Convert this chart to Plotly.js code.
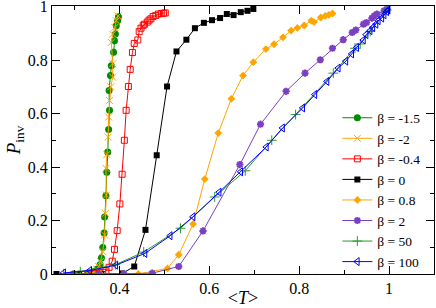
<!DOCTYPE html>
<html>
<head>
<meta charset="utf-8">
<script src="https://cdn.plot.ly/plotly-3.0.1.min.js"></script>
<style>html,body{margin:0;padding:0;background:#fff;}#chart{width:436px;height:308px;}</style>
</head>
<body>
<div id="chart"></div>
<script>
// beta = -1.5
const xBm15 = [0.31,0.33,0.34,0.35,0.357,0.360,0.363,0.366,0.367,0.370,0.372,0.374,0.376,0.378,0.377,0.380,0.382,0.387,0.389,0.391,0.393,0.396,0.398];
const yBm15 = [0.0,0.003,0.008,0.018,0.035,0.060,0.099,0.153,0.213,0.293,0.380,0.456,0.540,0.612,0.686,0.742,0.779,0.829,0.872,0.897,0.928,0.947,0.962];
// beta = -2
const xBm2 = [0.31,0.33,0.34,0.345,0.350,0.354,0.358,0.363,0.367,0.369,0.371,0.370,0.372,0.375,0.376,0.378,0.381,0.385,0.385,0.382,0.385,0.390,0.393,0.397];
const yBm2 = [0.0,0.002,0.005,0.010,0.016,0.028,0.047,0.084,0.146,0.227,0.295,0.395,0.447,0.512,0.587,0.649,0.700,0.736,0.786,0.866,0.897,0.922,0.947,0.965];
// beta = -0.4
const xBm04 = [0.33,0.345,0.355,0.363,0.370,0.377,0.384,0.389,0.395,0.401,0.406,0.411,0.415,0.420,0.424,0.429,0.433,0.441,0.444,0.448,0.453,0.456,0.462,0.466,0.470,0.475,0.481,0.487,0.493,0.498,0.502];
const yBm04 = [0.0,0.001,0.003,0.006,0.012,0.025,0.048,0.092,0.162,0.262,0.373,0.500,0.612,0.701,0.765,0.828,0.862,0.875,0.906,0.919,0.930,0.934,0.942,0.949,0.954,0.963,0.967,0.972,0.974,0.975,0.976];
// beta = 0
const xB0 = [0.26,0.31,0.36,0.406,0.433,0.458,0.483,0.506,0.527,0.549,0.568,0.588,0.606,0.624,0.639,0.654,0.670,0.685,0.698];
const yB0 = [0.0,0.0,0.0,0.002,0.028,0.165,0.444,0.701,0.832,0.876,0.919,0.939,0.949,0.957,0.972,0.968,0.979,0.984,0.991];
// beta = 0.8
const xB08 = [0.30,0.358,0.442,0.507,0.532,0.564,0.590,0.620,0.649,0.675,0.698,0.726,0.744,0.764,0.782,0.796,0.811,0.827,0.833,0.848,0.858,0.866,0.874];
const yB08 = [0.0,0.0,0.0,0.021,0.072,0.187,0.355,0.527,0.655,0.742,0.792,0.841,0.859,0.885,0.910,0.920,0.929,0.947,0.942,0.959,0.965,0.969,0.974];
// beta = 2
const xB2 = [0.297,0.355,0.410,0.473,0.532,0.586,0.668,0.714,0.771,0.813,0.847,0.874,0.898,0.918,0.926,0.943,0.950,0.962,0.967,0.973,0.989,0.995];
const yB2 = [0.0,0.0,0.001,0.003,0.028,0.161,0.409,0.560,0.683,0.751,0.801,0.844,0.876,0.903,0.912,0.934,0.940,0.957,0.965,0.972,0.984,0.990];
// beta = 50
const xB50 = [0.276,0.313,0.391,0.454,0.536,0.612,0.680,0.739,0.792,0.876,0.924,0.936,0.958,0.995];
const yB50 = [0.001,0.009,0.035,0.082,0.171,0.288,0.386,0.500,0.596,0.751,0.844,0.860,0.907,0.987];
// beta = 100
const xB100 = [0.276,0.334,0.392,0.457,0.513,0.564,0.622,0.670,0.727,0.763,0.808,0.835,0.862,0.887,0.904,0.917,0.928,0.943,0.949,0.958,0.964,0.971,0.976,0.984,0.989,0.995,0.998];
const yB100 = [0.004,0.013,0.033,0.077,0.143,0.214,0.306,0.382,0.475,0.546,0.621,0.671,0.720,0.770,0.796,0.823,0.847,0.875,0.895,0.910,0.922,0.934,0.947,0.957,0.969,0.981,0.987];

const names = ['β = -1.5','β = -2','β = -0.4','β = 0','β = 0.8','β = 2','β = 50','β = 100'];

const GREEN = '#008b00', ORANGE = '#ffa500', RED = '#ff0000', BLACK = '#000000', INDIGO = '#7b3fc4', BLUE = '#0000ff', GREEN2 = '#2e9b2e';

function tr(x, y, name, color, symbol, size, lw) {
  return {x: x, y: y, name: name, type: 'scatter', mode: 'lines+markers',
    line: {color: color, width: 1},
    marker: {color: color, symbol: symbol, size: size, line: {color: color, width: lw}}};
}

const data = [
  tr(xBm15, yBm15, names[0], GREEN, 'circle', 7, 0),
  tr(xBm2, yBm2, names[1], ORANGE, 'x-thin-open', 7, 1),
  tr(xBm04, yBm04, names[2], RED, 'square-open', 6, 1),
  tr(xB0, yB0, names[3], BLACK, 'square', 6, 0),
  tr(xB08, yB08, names[4], ORANGE, 'diamond', 6, 0),
  tr(xB2, yB2, names[5], INDIGO, 'asterisk-open', 6, 2),
  tr(xB50, yB50, names[6], GREEN2, 'cross-thin-open', 7, 1),
  tr(xB100, yB100, names[7], BLUE, 'triangle-left-open', 7, 1)
];

const FONT = 'Liberation Serif, Tinos, Times New Roman, Times, DejaVu Serif, serif';
const layout = {
  width: 436, height: 308,
  margin: {l: 52, r: 2, t: 6, b: 34},
  paper_bgcolor: '#fff', plot_bgcolor: '#fff',
  font: {family: FONT, color: '#000'},
  showlegend: true,
  legend: {x: 0.747, y: 0.64, xanchor: 'left', yanchor: 'top', bgcolor: 'rgba(0,0,0,0)',
    font: {family: FONT, size: 13.5, color: '#000'}, tracegroupgap: 0, itemwidth: 30},
  xaxis: {range: [0.25, 1.1], tick0: 0, dtick: 0.2, ticks: 'inside', ticklen: 8, tickwidth: 1,
    tickcolor: '#000', showline: true, linecolor: '#000', linewidth: 1, mirror: 'allticks',
    showgrid: false, zeroline: false, tickfont: {family: FONT, size: 16}, ticklabeloverflow: 'allow',
    minor: {dtick: 0.1, tick0: 0, ticks: 'inside', ticklen: 4, tickcolor: '#000', showgrid: false},
    title: {text: '&lt;<i>T</i>&gt;', font: {family: FONT, size: 18}, standoff: 4}},
  yaxis: {range: [0, 1.002], tick0: 0, dtick: 0.2, ticks: 'inside', ticklen: 8, tickwidth: 1,
    tickcolor: '#000', showline: true, linecolor: '#000', linewidth: 1, mirror: 'allticks',
    showgrid: false, zeroline: false, tickfont: {family: FONT, size: 16}, ticklabeloverflow: 'allow',
    minor: {dtick: 0.1, tick0: 0, ticks: 'inside', ticklen: 4, tickcolor: '#000', showgrid: false},
    title: {text: '<i>P</i><sub>inv</sub>', font: {family: FONT, size: 19}, standoff: 2}}
};

Plotly.newPlot('chart', data, layout, {staticPlot: true, displayModeBar: false});
</script>
</body>
</html>
